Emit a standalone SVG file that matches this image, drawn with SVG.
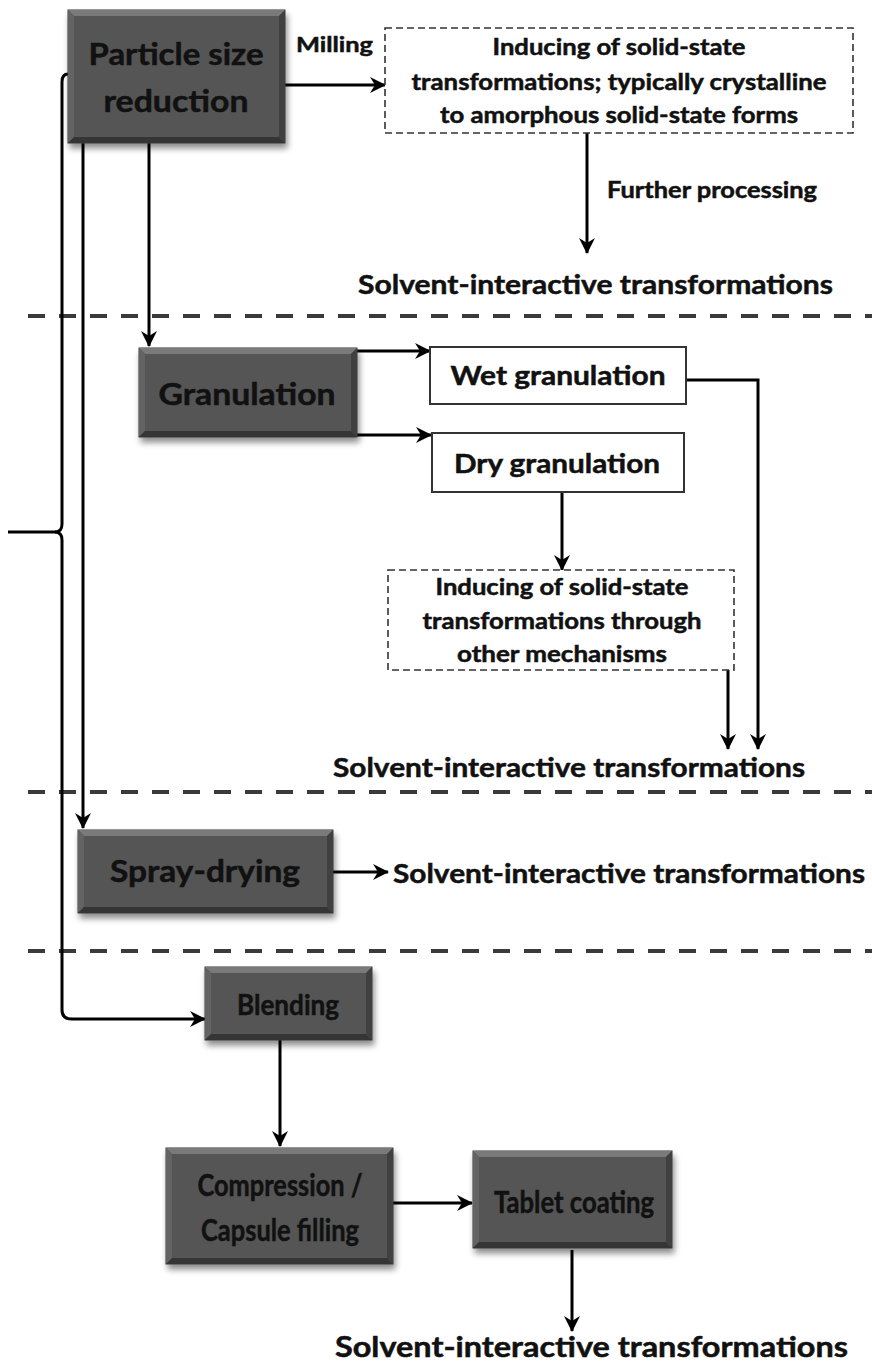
<svg xmlns="http://www.w3.org/2000/svg" width="872" height="1368" viewBox="0 0 872 1368">
<style>
.t{font-family:"Lato","Liberation Sans",sans-serif;font-weight:bold;fill:#111;stroke:#111;stroke-width:0.5}
.bx{font-size:30px;text-anchor:middle}
.face{fill:#545454;stroke:#383838;stroke-width:1}
.bt{fill:#7a7a7a}.bl{fill:#636363}.br{fill:#404040}.bb{fill:#343434}
.wb{fill:#fff;stroke:#333;stroke-width:2}
.db{fill:#fff;stroke:#333;stroke-width:1.6;stroke-dasharray:7 4}
.c{fill:none;stroke:#000;stroke-width:3}
.dl{stroke:#3a3a3a;stroke-width:4;stroke-dasharray:17 14}
.sm{font-size:22px;text-anchor:middle}
.sv{font-size:27px}
</style>
<defs>
<marker id="ah" viewBox="0 0 16 16" refX="15" refY="8" markerWidth="16" markerHeight="16" orient="auto" markerUnits="userSpaceOnUse">
<path d="M0,0 L16,8 L0,16 L5,8 z" fill="#000"/>
</marker>
<filter id="sh" x="-10%" y="-10%" width="125%" height="140%">
<feGaussianBlur in="SourceAlpha" stdDeviation="3"/>
<feOffset dx="2" dy="5"/>
<feComponentTransfer><feFuncA type="linear" slope="0.45"/></feComponentTransfer>
<feMerge><feMergeNode/><feMergeNode in="SourceGraphic"/></feMerge>
</filter>
</defs>
<rect width="872" height="1368" fill="#fff"/>

<g id="dividers">
<line class="dl" x1="28" y1="316" x2="872" y2="316"/>
<line class="dl" x1="28" y1="792" x2="872" y2="792"/>
<line class="dl" x1="28" y1="951" x2="872" y2="951"/>
</g>

<g id="connectors">
<path class="c" d="M68,74 Q62,74 62,82 L62,524 Q62,532 55,532 Q62,532 62,540 L62,1010 Q62,1019 72,1019 L205,1019" marker-end="url(#ah)"/>
<line class="c" x1="8" y1="532" x2="56" y2="532"/>
<line class="c" x1="83" y1="143" x2="83" y2="828" marker-end="url(#ah)"/>
<line class="c" x1="149" y1="143" x2="149" y2="346" marker-end="url(#ah)"/>
<line class="c" x1="285" y1="85" x2="385" y2="85" marker-end="url(#ah)"/>
<line class="c" x1="587" y1="133" x2="587" y2="253" marker-end="url(#ah)"/>
<line class="c" x1="357" y1="351" x2="430" y2="351" marker-end="url(#ah)"/>
<line class="c" x1="357" y1="435" x2="431" y2="435" marker-end="url(#ah)"/>
<line class="c" x1="562" y1="492" x2="562" y2="570" marker-end="url(#ah)"/>
<path class="c" d="M686,380 L758,380 L758,749" marker-end="url(#ah)"/>
<line class="c" x1="728" y1="670" x2="728" y2="749" marker-end="url(#ah)"/>
<line class="c" x1="333" y1="872" x2="388" y2="872" marker-end="url(#ah)"/>
<line class="c" x1="280" y1="1040" x2="280" y2="1146" marker-end="url(#ah)"/>
<line class="c" x1="393" y1="1203" x2="472" y2="1203" marker-end="url(#ah)"/>
<line class="c" x1="572" y1="1250" x2="572" y2="1331" marker-end="url(#ah)"/>
</g>

<g id="particle-size-reduction">
<g filter="url(#sh)">
<rect class="face" x="68" y="10" width="217" height="133"/>
<polygon class="bt" points="68,10 285,10 279,16 74,16"/>
<polygon class="bl" points="68,10 74,16 74,137 68,143"/>
<polygon class="br" points="285,10 285,143 279,137 279,16"/>
<polygon class="bb" points="68,143 285,143 279,137 74,137"/>
</g>
<text class="t bx" x="176" y="65" textLength="175" lengthAdjust="spacingAndGlyphs">Particle size</text>
<text class="t bx" x="176" y="112" textLength="145" lengthAdjust="spacingAndGlyphs">reduction</text>
</g>

<g id="milling-label">
<text class="t" x="296" y="52" font-size="21" textLength="77" lengthAdjust="spacingAndGlyphs">Milling</text>
</g>

<g id="milling-transform">
<rect class="db" x="385" y="28" width="468" height="105"/>
<text class="t sm" x="619" y="55" textLength="253" lengthAdjust="spacingAndGlyphs">Inducing of solid-state</text>
<text class="t sm" x="619" y="90" textLength="415" lengthAdjust="spacingAndGlyphs">transformations; typically crystalline</text>
<text class="t sm" x="619" y="123" textLength="358" lengthAdjust="spacingAndGlyphs">to amorphous solid-state forms</text>
</g>

<g id="further-processing-label">
<text class="t" x="607" y="198" font-size="22" textLength="210" lengthAdjust="spacingAndGlyphs">Further processing</text>
</g>

<g id="solvent-1">
<text class="t sv" x="358" y="294" textLength="475" lengthAdjust="spacingAndGlyphs">Solvent-interactive transformations</text>
</g>

<g id="granulation">
<g filter="url(#sh)">
<rect class="face" x="139" y="348" width="218" height="89"/>
<polygon class="bt" points="139,348 357,348 351,354 145,354"/>
<polygon class="bl" points="139,348 145,354 145,431 139,437"/>
<polygon class="br" points="357,348 357,437 351,431 351,354"/>
<polygon class="bb" points="139,437 357,437 351,431 145,431"/>
</g>
<text class="t bx" x="247" y="405" textLength="177" lengthAdjust="spacingAndGlyphs">Granulation</text>
</g>

<g id="wet-granulation">
<rect class="wb" x="430" y="347" width="256" height="57"/>
<text class="t" x="558" y="385" font-size="26" text-anchor="middle" textLength="215" lengthAdjust="spacingAndGlyphs">Wet granulation</text>
</g>

<g id="dry-granulation">
<rect class="wb" x="432" y="433" width="252" height="59"/>
<text class="t" x="557" y="473" font-size="26" text-anchor="middle" textLength="206" lengthAdjust="spacingAndGlyphs">Dry granulation</text>
</g>

<g id="other-mechanisms">
<rect class="db" x="388" y="570" width="346" height="100"/>
<text class="t sm" x="562" y="595" textLength="253" lengthAdjust="spacingAndGlyphs">Inducing of solid-state</text>
<text class="t sm" x="562" y="629" textLength="279" lengthAdjust="spacingAndGlyphs">transformations through</text>
<text class="t sm" x="562" y="662" textLength="210" lengthAdjust="spacingAndGlyphs">other mechanisms</text>
</g>

<g id="solvent-2">
<text class="t sv" x="333" y="777" textLength="472" lengthAdjust="spacingAndGlyphs">Solvent-interactive transformations</text>
</g>

<g id="spray-drying">
<g filter="url(#sh)">
<rect class="face" x="78" y="830" width="255" height="83"/>
<polygon class="bt" points="78,830 333,830 327,836 84,836"/>
<polygon class="bl" points="78,830 84,836 84,907 78,913"/>
<polygon class="br" points="333,830 333,913 327,907 327,836"/>
<polygon class="bb" points="78,913 333,913 327,907 84,907"/>
</g>
<text class="t bx" x="205" y="882" textLength="190" lengthAdjust="spacingAndGlyphs">Spray-drying</text>
</g>

<g id="solvent-3">
<text class="t sv" x="393" y="883" textLength="472" lengthAdjust="spacingAndGlyphs">Solvent-interactive transformations</text>
</g>

<g id="blending">
<g filter="url(#sh)">
<rect class="face" x="205" y="967" width="167" height="73"/>
<polygon class="bt" points="205,967 372,967 366,973 211,973"/>
<polygon class="bl" points="205,967 211,973 211,1034 205,1040"/>
<polygon class="br" points="372,967 372,1040 366,1034 366,973"/>
<polygon class="bb" points="205,1040 372,1040 366,1034 211,1034"/>
</g>
<text class="t" x="288" y="1015" font-size="29" text-anchor="middle" textLength="102" lengthAdjust="spacingAndGlyphs">Blending</text>
</g>

<g id="compression">
<g filter="url(#sh)">
<rect class="face" x="166" y="1148" width="227" height="116"/>
<polygon class="bt" points="166,1148 393,1148 387,1154 172,1154"/>
<polygon class="bl" points="166,1148 172,1154 172,1258 166,1264"/>
<polygon class="br" points="393,1148 393,1264 387,1258 387,1154"/>
<polygon class="bb" points="166,1264 393,1264 387,1258 172,1258"/>
</g>
<text class="t" x="280" y="1196" font-size="30" text-anchor="middle" textLength="165" lengthAdjust="spacingAndGlyphs">Compression /</text>
<text class="t" x="280" y="1241" font-size="30" text-anchor="middle" textLength="158" lengthAdjust="spacingAndGlyphs">Capsule filling</text>
</g>

<g id="tablet-coating">
<g filter="url(#sh)">
<rect class="face" x="473" y="1151" width="199" height="97"/>
<polygon class="bt" points="473,1151 672,1151 666,1157 479,1157"/>
<polygon class="bl" points="473,1151 479,1157 479,1242 473,1248"/>
<polygon class="br" points="672,1151 672,1248 666,1242 666,1157"/>
<polygon class="bb" points="473,1248 672,1248 666,1242 479,1242"/>
</g>
<text class="t" x="574" y="1213" font-size="30" text-anchor="middle" textLength="160" lengthAdjust="spacingAndGlyphs">Tablet coating</text>
</g>

<g id="solvent-4">
<text class="t" x="335" y="1357" font-size="28" textLength="513" lengthAdjust="spacingAndGlyphs">Solvent-interactive transformations</text>
</g>
</svg>
